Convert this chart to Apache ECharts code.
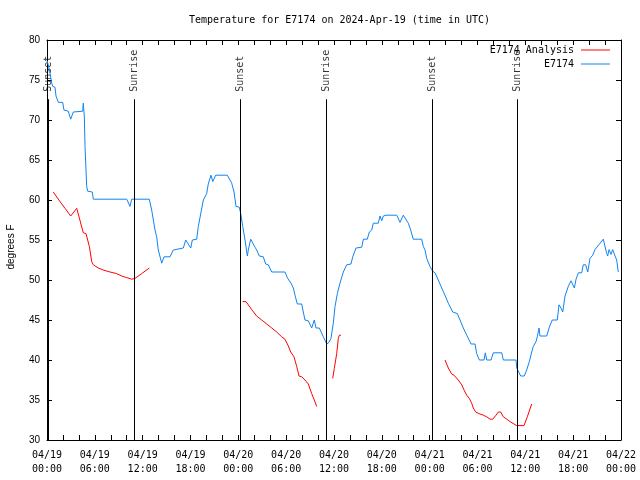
<!DOCTYPE html>
<html>
<head>
<meta charset="utf-8">
<script src="https://cdn.jsdelivr.net/npm/echarts@6/dist/echarts.min.js"></script>
<style>html,body{margin:0;padding:0;background:#fff;}#c{width:640px;height:480px;}</style>
</head>
<body>
<div id="c"></div>
<script>
// Hours since 04/19 00:00 UTC
var tickLabels = ['04/19\n00:00','04/19\n06:00','04/19\n12:00','04/19\n18:00','04/20\n00:00','04/20\n06:00','04/20\n12:00','04/20\n18:00','04/21\n00:00','04/21\n06:00','04/21\n12:00','04/21\n18:00','04/22\n00:00'];

var sunNames = ['Sunset','Sunrise','Sunset','Sunrise','Sunset','Sunrise'];
var sunHours = [0.13, 10.95, 24.25, 35.04, 48.33, 59.0];

var obsHours = [0.00,0.16,0.38,0.59,0.72,1.00,1.13,1.42,1.97,2.13,2.67,2.97,3.30,4.48,4.55,4.64,4.68,4.77,4.98,5.11,5.68,5.81,10.00,10.41,10.62,12.83,13.13,13.55,13.76,13.96,14.39,14.68,15.43,15.84,16.06,17.10,17.40,17.60,18.03,18.23,18.78,18.98,19.61,20.03,20.23,20.57,20.79,21.16,22.62,22.96,23.17,23.29,23.46,23.71,24.12,24.30,24.55,24.84,25.13,25.25,25.55,25.75,26.09,26.30,26.63,27.13,27.43,27.76,28.19,29.85,30.19,30.61,30.90,31.11,31.40,31.95,32.15,32.36,32.78,33.20,33.53,33.74,34.16,34.66,35.09,35.37,35.62,35.91,36.13,36.42,36.75,37.17,37.59,38.13,38.35,38.76,39.48,39.68,40.18,40.43,40.73,40.93,41.56,41.77,41.98,42.19,42.52,43.87,44.28,44.69,45.32,45.62,45.94,47.00,47.20,47.42,47.63,48.04,48.38,48.67,49.08,49.51,49.92,50.34,50.89,51.47,51.81,52.22,52.65,53.19,53.69,53.90,54.23,54.82,54.98,55.16,55.70,55.98,57.04,57.24,58.83,58.92,59.12,59.42,59.87,60.17,60.50,60.80,61.00,61.34,61.50,61.72,61.84,62.68,63.01,63.38,64.01,64.22,64.47,64.69,64.98,65.39,65.73,65.95,66.15,66.36,66.65,67.07,67.27,67.57,67.83,68.11,68.45,68.74,69.37,69.78,70.21,70.33,70.50,70.75,70.96,71.25,71.46,71.66];
var obsTemps = [77.4,76.9,75.8,74.6,74.2,74.1,73.0,72.2,72.2,71.25,71.1,70.1,71.0,71.1,72.1,72.0,70.5,66.7,61.7,61.1,61.0,60.1,60.1,59.2,60.1,60.1,58.75,56.25,55.4,53.75,52.1,52.9,52.9,53.75,54.0,54.0,55.0,55.0,54.0,55.0,55.1,56.7,60.0,60.8,62.0,63.1,62.3,63.1,63.1,62.5,62.1,61.9,61.0,59.2,59.1,58.3,56.7,55.0,53.0,53.75,55.1,55.1,54.1,53.75,53.0,52.9,52.0,51.9,51.0,51.0,50.2,49.6,49.0,48.1,47.0,47.0,46.0,45.0,44.9,44.0,45.0,44.0,44.0,42.9,42.0,42.2,42.7,44.6,46.7,48.3,49.6,51.0,51.9,52.0,52.9,54.0,54.1,55.1,55.1,56.0,56.25,57.1,57.1,58.0,57.4,58.0,58.1,58.1,57.2,58.1,57.1,56.25,55.1,55.1,54.2,53.75,52.7,51.7,51.1,50.9,50.0,49.0,48.1,47.1,46.0,45.8,45.0,44.0,43.1,42.0,42.0,40.8,40.0,40.0,40.9,40.0,40.0,40.9,40.9,40.0,40.0,39.0,38.8,38.0,38.0,38.75,39.8,41.0,41.7,42.3,42.9,44.0,43.0,43.0,44.1,45.0,45.0,46.9,46.5,46.0,48.0,49.2,49.9,49.9,49.0,50.1,50.9,50.9,51.9,51.9,51.0,52.7,53.1,53.8,54.6,55.1,53.3,53.0,53.8,53.2,53.8,53.0,52.5,51.0];

var anaHours1 = [0.79,1.63,2.26,2.97,3.73,3.93,4.55,4.89,5.31,5.61,5.81,6.44,7.06,7.90,8.74,9.37,10.00,10.62,11.04,11.88,12.83];
var anaTemps1 = [61.0,59.8,58.96,58.0,58.96,59.0,55.9,55.8,54.2,52.3,51.9,51.5,51.25,51.0,50.8,50.5,50.3,50.1,50.2,50.8,51.5];
var anaHours2 = [24.55,24.96,25.68,26.30,26.93,27.56,28.19,28.81,29.44,29.85,30.27,30.57,30.98,31.32,31.61,31.95,32.36,32.78,33.20,33.53,33.83];
var anaTemps2 = [47.3,47.3,46.3,45.5,45.0,44.5,44.0,43.5,42.9,42.6,41.75,41.0,40.4,39.2,38.0,37.9,37.5,37.0,35.8,35.0,34.2];
var anaHours3 = [35.84,36.04,36.34,36.54,36.67,36.88];
var anaTemps3 = [37.7,38.96,40.8,42.7,43.1,43.1];
var anaHours4 = [49.92,50.34,50.76,51.05,51.59,52.02,52.31,52.65,52.97,53.27,53.47,53.77,54.31,54.73,55.16,55.57,55.91,56.32,56.61,56.91,57.24,57.67,58.08,58.58,58.92,59.83,60.25,60.80];
var anaTemps4 = [40.0,39.0,38.25,38.1,37.5,36.9,36.25,35.6,35.2,34.6,34.0,33.5,33.25,33.1,32.9,32.6,32.6,33.1,33.5,33.5,32.9,32.6,32.3,32.0,31.8,31.8,32.9,34.5];

function zip(a, b) { return a.map(function (v, i) { return [v, b[i]]; }); }

var MONO = '"DejaVu Sans Mono", "Liberation Mono", monospace';
var SANS = '"Liberation Sans", Arial, sans-serif';
var BLUE = '#1084f0';
var RED = '#ff0000';

var lineTop = 72.6;   // sun-event lines start below the labels
var labelBase = 73.4; // bottom of rotated labels

var anaSegs = [[anaHours1, anaTemps1], [anaHours2, anaTemps2], [anaHours3, anaTemps3], [anaHours4, anaTemps4]];

var series = [];
anaSegs.forEach(function (s) {
  series.push({
    name: 'E7174 Analysis', type: 'line', data: zip(s[0], s[1]),
    symbol: 'none', lineStyle: { color: RED, width: 1 }, itemStyle: { color: RED },
    animation: false, z: 3
  });
});
series.push({
  name: 'E7174', type: 'line', data: zip(obsHours, obsTemps),
  symbol: 'none', lineStyle: { color: BLUE, width: 1 }, itemStyle: { color: BLUE },
  animation: false, z: 4
});
series.push({
  name: 'sun', type: 'scatter', symbolSize: 0, silent: true, animation: false,
  data: sunHours.map(function (h, i) { return { value: [h, labelBase], name: sunNames[i] }; }),
  label: {
    show: true, position: 'inside', rotate: 90, align: 'left', verticalAlign: 'middle',
    offset: [1, 0],
    formatter: function (p) { return p.name; },
    fontFamily: MONO, fontSize: 10, color: '#000'
  },
  markLine: {
    silent: true, symbol: 'none', animation: false,
    label: { show: false },
    lineStyle: { color: '#000', width: 1, type: 'solid' },
    data: sunHours.map(function (h) { return [{ coord: [h, lineTop] }, { coord: [h, 30] }]; })
  },
  z: 2
});

var chart = echarts.init(document.getElementById('c'), null, { renderer: 'canvas' });
chart.setOption({
  backgroundColor: '#fff',
  animation: false,
  title: {
    text: 'Temperature for E7174 on 2024-Apr-19 (time in UTC)',
    left: 184, top: 10,
    textStyle: { fontFamily: MONO, fontSize: 10, fontWeight: 'normal', color: '#000' }
  },
  legend: {
    data: [
      { name: 'E7174 Analysis', icon: 'rect', itemStyle: { color: RED } },
      { name: 'E7174', icon: 'rect', itemStyle: { color: BLUE } }
    ],
    orient: 'vertical', right: 30, top: 44, align: 'right', padding: 0,
    itemWidth: 29, itemHeight: 1, itemGap: 2,
    textStyle: { fontFamily: MONO, fontSize: 10, color: '#000', lineHeight: 12, padding: [0, 2, 0, 0] },
    selectedMode: false
  },
  graphic: [{
    type: 'text', rotation: Math.PI / 2,
    style: { text: 'degrees F', fontFamily: SANS, fontSize: 10, fill: '#000', textAlign: 'center', textVerticalAlign: 'middle', x: 0, y: 0 },
    x: 11, y: 247
  }],
  grid: { left: 47, right: 19, top: 40, bottom: 40, show: false },
  xAxis: [{
    type: 'value', min: 0, max: 72, interval: 2,
    axisLine: { show: true, onZero: false, lineStyle: { color: '#000', width: 1 } },
    axisTick: { show: true, inside: true, length: 5, lineStyle: { color: '#000' } },
    axisLabel: {
      show: true, margin: 8, fontFamily: MONO, fontSize: 10, color: '#000', lineHeight: 14,
      showMinLabel: true, showMaxLabel: true,
      formatter: function (v) { return (v % 6 === 0) ? tickLabels[v / 6] : ''; }
    },
    splitLine: { show: false }
  }, {
    type: 'value', min: 0, max: 72, interval: 2, position: 'top',
    axisLine: { show: true, onZero: false, lineStyle: { color: '#000', width: 1 } },
    axisTick: { show: true, inside: true, length: 5, lineStyle: { color: '#000' } },
    axisLabel: { show: false }, splitLine: { show: false }
  }],
  yAxis: [{
    type: 'value', min: 30, max: 80, interval: 5,
    axisLine: { show: true, onZero: false, lineStyle: { color: '#000', width: 1 } },
    axisTick: { show: true, inside: true, length: 5, lineStyle: { color: '#000' } },
    axisLabel: { margin: 7, fontFamily: SANS, fontSize: 10, color: '#000' },
    splitLine: { show: false }
  }, {
    type: 'value', min: 30, max: 80, interval: 5, position: 'right',
    axisLine: { show: true, onZero: false, lineStyle: { color: '#000', width: 1 } },
    axisTick: { show: true, inside: true, length: 5, lineStyle: { color: '#000' } },
    axisLabel: { show: false }, splitLine: { show: false }
  }],
  series: series
});
</script>
</body>
</html>
